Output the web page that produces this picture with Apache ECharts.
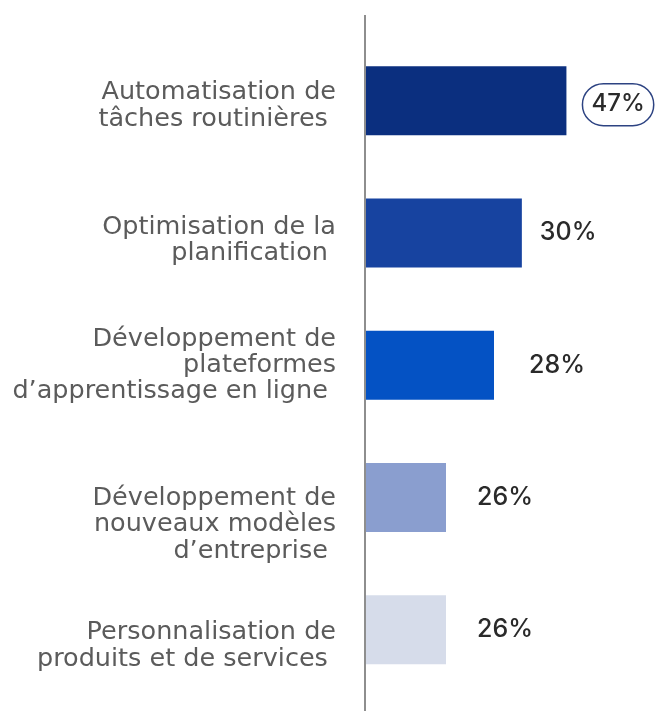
<!DOCTYPE html>
<html lang="fr">
<head>
    <meta charset="UTF-8">
    <title>Usages de l'IA</title>
    <style>
        html, body { margin: 0; padding: 0; background: #fff; }
        #main { width: 665px; height: 711px; }
    </style>
</head>
<body>
<div id="main"></div>
<script src="https://cdn.jsdelivr.net/npm/echarts@6/dist/echarts.min.js"></script>
<script>
    // categories, top to bottom
    const categories = [
        'Automatisation de\ntâches routinières ',
        'Optimisation de la\nplanification ',
        'Développement de\nplateformes\nd\u2019apprentissage en ligne ',
        'Développement de\nnouveaux modèles\nd\u2019entreprise ',
        'Personnalisation de\nproduits et de services '
    ];
    // printed percentages
    const shares = [47, 30, 28, 26, 26];
    // bar lengths as drawn in the source (same units, first bar = 47)
    const barLengths = [47, 36.6, 30.1, 18.9, 18.9];
    const barColors = ['#0b2f7f', '#1743a0', '#0452c4', '#8a9ecf', '#d6dcea'];

    // small style tweaks to follow the source layout
    const labelGap = [16, 18, 35, 31, 31];
    const catPad = [10, 14, 0, 54, 32];

    let myChart = echarts.init(document.getElementById('main'));

    const gridLeft = 365;
    const lineH = 26.5;
    const catFont = {
        color: '#5b5b5b',
        fontFamily: 'DejaVu Sans',
        fontSize: 25.5,
        lineHeight: lineH
    };

    // the first line of each label gets a taller line box, text sat at its bottom
    let catRich = {n: Object.assign({}, catFont)};
    catPad.forEach(function (p, i) {
        catRich['f' + i] = Object.assign({}, catFont, {lineHeight: lineH + p, verticalAlign: 'bottom'});
    });

    let option = {
        animation: false,
        grid: {
            left: gridLeft,
            right: 0,
            top: 34.5,
            bottom: 15,
            containLabel: false
        },
        xAxis: {
            type: 'value',
            min: 0,
            max: 70,
            show: false
        },
        yAxis: {
            type: 'category',
            inverse: true,
            data: categories,
            axisLine: {show: false},
            axisTick: {show: false},
            axisLabel: {
                margin: 29,
                align: 'right',
                formatter: function (value, index) {
                    return value.split('\n').map(function (line, k) {
                        return '{' + (k === 0 ? 'f' + index : 'n') + '|' + line + '}';
                    }).join('\n');
                },
                rich: catRich
            }
        },
        graphic: [{
            type: 'line',
            shape: {x1: gridLeft, y1: 15, x2: gridLeft, y2: 711},
            style: {stroke: '#8e8e8e', lineWidth: 2},
            z: 10
        }],
        series: [{
            type: 'bar',
            barWidth: 69,
            data: barLengths.map(function (v, i) {
                return {
                    value: v,
                    itemStyle: {color: barColors[i]},
                    label: {
                        distance: labelGap[i],
                        offset: i === 0 ? [0, 4] : [0, 0],
                        formatter: i === 0 ? '{c|' + shares[i] + '%}' : shares[i] + '%'
                    }
                };
            }),
            label: {
                show: true,
                position: 'right',
                color: '#2a2a2a',
                fontFamily: 'Inter',
                fontSize: 25,
                fontWeight: 500,
                rich: {
                    c: {
                        color: '#2a2a2a',
                        fontFamily: 'Inter',
                        fontSize: 24,
                        fontWeight: 500,
                        lineHeight: 24,
                        borderColor: '#2d4382',
                        borderWidth: 1.5,
                        borderRadius: 21,
                        padding: [8, 9, 10, 9]
                    }
                }
            }
        }]
    };

    myChart.setOption(option);
</script>
</body>
</html>
